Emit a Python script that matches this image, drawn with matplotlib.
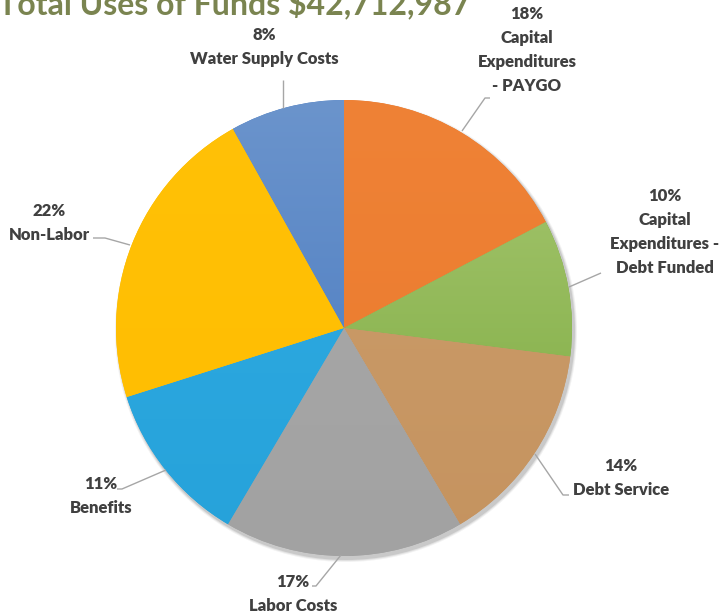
import numpy as np
import matplotlib
matplotlib.use('Agg')
from matplotlib import pyplot as plt
from matplotlib.patches import Circle
from matplotlib.colors import to_rgb

# Total Uses of Funds, share of total
categories = ['Capital\nExpenditures\n- PAYGO',
              'Capital\nExpenditures -\nDebt Funded',
              'Debt Service',
              'Labor Costs',
              'Benefits',
              'Non-Labor',
              'Water Supply Costs']
shares = [17.3, 9.7, 14.5, 17.0, 11.6, 21.8, 8.1]
pct_labels = ['18%', '10%', '14%', '17%', '11%', '22%', '8%']
title_text = 'Total Uses of Funds $42,712,987'

# slice fill: (top colour, bottom colour) for a soft vertical gradient
fills = [('#EF8236', '#EA7A2D'),
         ('#A9C873', '#78A83B'),
         ('#CC9E6C', '#C5935F'),
         ('#A9A9A9', '#A2A2A2'),
         ('#30ACE3', '#26A2DA'),
         ('#FFC107', '#FFBD00'),
         ('#6B94CC', '#4577BF')]

# label layout in pixels from the top-left: text centre, leader start, elbow, end
label_pos = [(527, 50), (665, 232), (621, 478), (293, 594),
             (101, 496), (49, 223), (264, 47)]
leaders = [[(462, 131), (485, 98), (490, 98)],
           [(569, 287), (601, 273), (601, 273)],
           [(535, 454), (563, 495), (569, 495)],
           [(341, 555), (316, 586), (312, 586)],
           [(166, 470), (122, 489), (117, 489)],
           [(130, 245), (105, 238), (93, 238)],
           [(283, 108), (283, 80), (283, 80)]]

W, H = 724, 614
CX, CY, R = 344, 328, 228
TXT = '#404040'


def py(y):
    return H - y


fig = plt.figure(figsize=(W / 100, H / 100), dpi=100)
ax = fig.add_axes([0, 0, 1, 1])

# faint drop shadow under the pie
for k, a in enumerate([0.05, 0.07, 0.10]):
    ax.add_patch(Circle((CX + 2, py(CY) - 3), R + 3 - k, color='black',
                        alpha=a, lw=0, zorder=1))

wedges, _ = ax.pie(shares, center=(CX, py(CY)), radius=R, startangle=90,
                   counterclock=False, frame=True,
                   wedgeprops=dict(linewidth=0))

for w, (c_top, c_bot) in zip(wedges, fills):
    w.set_zorder(2)
    w.set_facecolor(c_bot)
    t = np.linspace(0, 1, 256)[:, None]
    grad = np.array(to_rgb(c_top))[None, None, :] * (1 - t[..., None]) + \
        np.array(to_rgb(c_bot))[None, None, :] * t[..., None]
    img = ax.imshow(grad, extent=(CX - R, CX + R, py(CY) - R, py(CY) + R),
                    origin='upper', aspect='auto', zorder=3,
                    interpolation='bilinear')
    img.set_clip_path(w)

for txt, pct, (lx, ly), pts in zip(categories, pct_labels, label_pos, leaders):
    ax.text(lx, py(ly), pct + '\n' + txt, ha='center', va='center',
            family='Lato', fontweight='heavy', fontsize=12, color=TXT,
            linespacing=1.6, zorder=5)
    xs = [p[0] for p in pts]
    ys = [py(p[1]) for p in pts]
    ax.plot(xs, ys, color='#A6A6A6', lw=1.0, zorder=4,
            solid_capstyle='butt')

ax.text(-2, py(14), title_text, ha='left', va='baseline', family='Lato',
        fontweight='bold', fontsize=23, color='#7A8450', zorder=6)

ax.set_xlim(0, W)
ax.set_ylim(0, H)
ax.set_aspect('auto')
ax.axis('off')

fig.savefig('out.png', dpi=100)
